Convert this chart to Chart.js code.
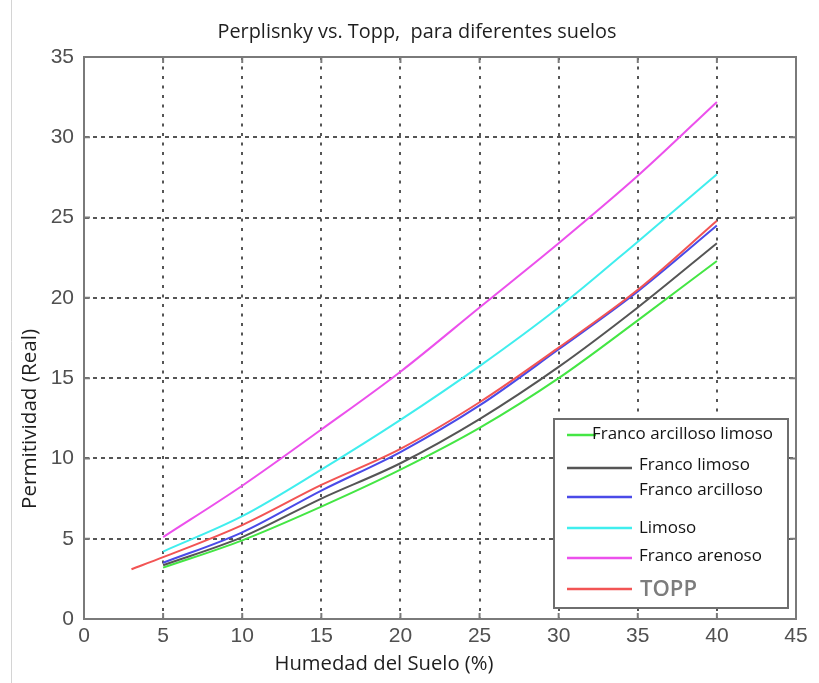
<!DOCTYPE html>
<html>
<head>
<meta charset="utf-8">
<script src="https://cdn.jsdelivr.net/npm/chart.js@4.4.1/dist/chart.umd.min.js"></script>
<style>
  html, body { margin: 0; padding: 0; background: #fff; }
  #wrap { position: relative; width: 819px; height: 683px; }
</style>
</head>
<body>
<div id="wrap"><canvas id="c"></canvas></div>
<script>
// ---- data ----
const humedad = [5, 10, 15, 20, 25, 30, 35, 40];
const humedadTopp = [3, 5, 10, 15, 20, 25, 30, 35, 40];
const francoArcillosoLimoso = [3.2, 4.9, 7.0, 9.3, 11.9, 15.0, 18.6, 22.3];
const francoLimoso = [3.35, 5.1, 7.5, 9.7, 12.45, 15.7, 19.4, 23.4];
const francoArcilloso = [3.5, 5.4, 8.0, 10.4, 13.3, 16.8, 20.4, 24.5];
const limoso = [4.2, 6.4, 9.3, 12.4, 15.75, 19.4, 23.5, 27.7];
const francoArenoso = [5.1, 8.3, 11.8, 15.4, 19.4, 23.4, 27.6, 32.2];
const topp = [3.1, 3.85, 5.85, 8.35, 10.6, 13.5, 16.9, 20.5, 24.8];

const xTicks = [0, 5, 10, 15, 20, 25, 30, 35, 40, 45];
const yTicks = [0, 5, 10, 15, 20, 25, 30, 35];

const seriesNames = ['Franco arcilloso limoso', 'Franco limoso', 'Franco arcilloso', 'Limoso', 'Franco arenoso', 'TOPP'];
const titleText = 'Perplisnky vs. Topp,  para diferentes suelos';
const xTitle = 'Humedad del Suelo (%)';
const yTitle = 'Permitividad (Real)';

const colors = {
  green: '#44e644', gray: '#555555', blue: '#4a4ae8',
  cyan: '#40eeee', magenta: '#ec50ec', red: '#f25454'
};

function pts(xs, ys) { return xs.map((x, i) => ({ x: x, y: ys[i] })); }

const TEXT_FAMILY = '"Open Sans", Lato, sans-serif';
const TICK_FAMILY = '"Liberation Sans Narrow", "Liberation Sans", Arial, sans-serif';

// choose a font size so that a text spans a given width
function fitFont(ctx, text, weight, family, targetW) {
  ctx.font = weight + ' 100px ' + family;
  const w = ctx.measureText(text).width;
  const size = 100 * targetW / w;
  return weight + ' ' + size.toFixed(2) + 'px ' + family;
}

const bgPlugin = {
  id: 'bg',
  beforeDraw(chart) {
    const ctx = chart.ctx;
    ctx.save();
    ctx.fillStyle = '#fff';
    ctx.fillRect(0, 0, chart.width, chart.height);
    ctx.strokeStyle = '#d4d4d4';
    ctx.lineWidth = 1;
    ctx.beginPath(); ctx.moveTo(11.5, 0); ctx.lineTo(11.5, chart.height); ctx.stroke();
    ctx.restore();
  }
};

const framePlugin = {
  id: 'frame',
  afterDatasetsDraw(chart) {
    const ctx = chart.ctx, a = chart.chartArea;
    const xs = chart.scales.x, ys = chart.scales.y;
    ctx.save();
    ctx.setLineDash([]);
    ctx.strokeStyle = '#7a7a7a';
    ctx.lineWidth = 2;
    ctx.strokeRect(a.left, a.top, a.right - a.left, a.bottom - a.top);
    const L = 6;
    ctx.beginPath();
    xTicks.forEach(v => {
      const px = xs.getPixelForValue(v);
      ctx.moveTo(px, a.bottom); ctx.lineTo(px, a.bottom - L);
      ctx.moveTo(px, a.top); ctx.lineTo(px, a.top + L);
    });
    yTicks.forEach(v => {
      const py = ys.getPixelForValue(v);
      ctx.moveTo(a.left, py); ctx.lineTo(a.left + L, py);
      ctx.moveTo(a.right, py); ctx.lineTo(a.right - L, py);
    });
    ctx.stroke();

    // legend box
    const bx = 554, by = 419, bw = 234, bh = 189;
    ctx.fillStyle = '#fff';
    ctx.fillRect(bx, by, bw, bh);
    ctx.strokeStyle = '#6e6e6e';
    ctx.lineWidth = 2;
    ctx.strokeRect(bx, by, bw, bh);
    const legendFont = fitFont(ctx, seriesNames[0], '400', TEXT_FAMILY, 181);
    const toppFont = fitFont(ctx, seriesNames[5], '600', TEXT_FAMILY, 57);
    const rows = [
      { c: colors.green, ly: 435, ty: 434, tx: 592, x2: 596 },
      { c: colors.gray, ly: 468, ty: 465, tx: 639, x2: 632 },
      { c: colors.blue, ly: 497, ty: 490, tx: 639, x2: 632 },
      { c: colors.cyan, ly: 528, ty: 528, tx: 639, x2: 632 },
      { c: colors.magenta, ly: 558, ty: 556, tx: 639, x2: 632 },
      { c: colors.red, ly: 589, ty: 590, tx: 640, x2: 632 }
    ];
    rows.forEach((r, i) => {
      ctx.strokeStyle = r.c;
      ctx.lineWidth = 2.5;
      ctx.beginPath(); ctx.moveTo(567, r.ly); ctx.lineTo(r.x2, r.ly); ctx.stroke();
      ctx.textAlign = 'left';
      ctx.textBaseline = 'middle';
      if (i === 5) {
        ctx.fillStyle = '#7c7c7c';
        ctx.font = toppFont;
      } else {
        ctx.fillStyle = '#141414';
        ctx.font = legendFont;
      }
      ctx.fillText(seriesNames[i], r.tx, r.ty);
    });

    // titles
    ctx.fillStyle = '#1e1e1e';
    ctx.textAlign = 'center';
    ctx.textBaseline = 'middle';
    ctx.font = fitFont(ctx, titleText, '400', TEXT_FAMILY, 399);
    ctx.fillText(titleText, 417, 32);
    ctx.font = fitFont(ctx, xTitle, '400', TEXT_FAMILY, 219);
    ctx.fillText(xTitle, 384, 664);
    ctx.save();
    ctx.translate(30, 419);
    ctx.rotate(-Math.PI / 2);
    ctx.font = fitFont(ctx, yTitle, '400', TEXT_FAMILY, 180);
    ctx.fillText(yTitle, 0, 0);
    ctx.restore();
    ctx.restore();
  }
};

const ds = (label, xs, ys, color) => ({
  label: label,
  data: pts(xs, ys),
  borderColor: color,
  backgroundColor: color,
  borderWidth: 2,
  pointRadius: 0,
  fill: false,
  cubicInterpolationMode: 'monotone'
});

new Chart(document.getElementById('c'), {
  type: 'line',
  data: {
    datasets: [
      ds(seriesNames[5], humedadTopp, topp, colors.red),
      ds(seriesNames[4], humedad, francoArenoso, colors.magenta),
      ds(seriesNames[3], humedad, limoso, colors.cyan),
      ds(seriesNames[2], humedad, francoArcilloso, colors.blue),
      ds(seriesNames[1], humedad, francoLimoso, colors.gray),
      ds(seriesNames[0], humedad, francoArcillosoLimoso, colors.green)
    ]
  },
  options: {
    responsive: true,
    maintainAspectRatio: false,
    animation: false,
    layout: { padding: { top: 57, right: 23, left: 0, bottom: 0 } },
    plugins: { legend: { display: false }, title: { display: false }, tooltip: { enabled: false } },
    scales: {
      x: {
        type: 'linear', min: 0, max: 45,
        afterFit(s) { s.height = 64; },
        afterBuildTicks(s) { s.ticks = xTicks.map(v => ({ value: v })); },
        grid: { color: 'rgba(55,55,55,0.85)', lineWidth: 2, drawTicks: false },
        border: { display: true, color: '#7a7a7a', width: 2, dash: [3, 6.5] },
        ticks: { padding: 5, color: '#505050', font: { family: TICK_FAMILY, size: 21 } }
      },
      y: {
        type: 'linear', min: 0, max: 35,
        afterFit(s) { s.width = 84; },
        afterBuildTicks(s) { s.ticks = yTicks.map(v => ({ value: v })); },
        grid: { color: 'rgba(55,55,55,0.85)', lineWidth: 2, drawTicks: false },
        border: { display: true, color: '#7a7a7a', width: 2, dash: [4, 4] },
        ticks: { padding: 10, color: '#505050', font: { family: TICK_FAMILY, size: 21 } }
      }
    }
  },
  plugins: [bgPlugin, framePlugin]
});
</script>
</body>
</html>
